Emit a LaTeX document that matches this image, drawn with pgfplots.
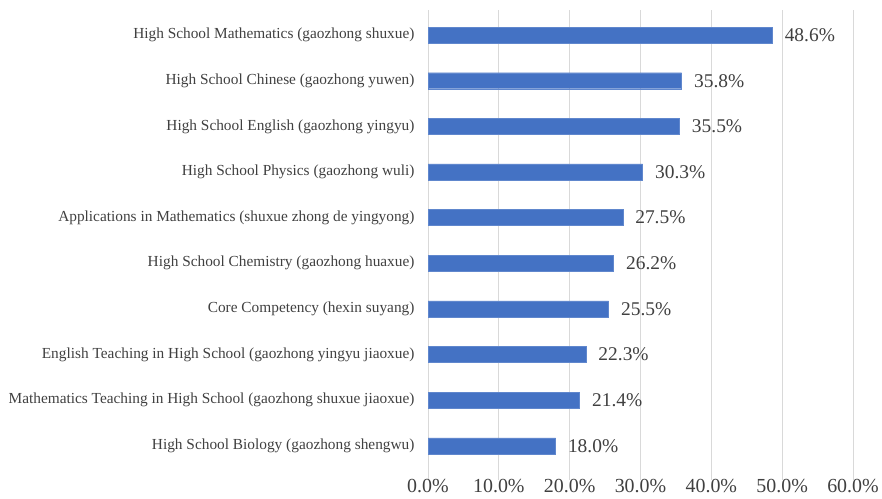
\documentclass[border=0pt]{standalone}
\usepackage{pgfplots}
\pgfplotsset{compat=1.18}
\usepackage{fontspec}
\setmainfont{Liberation Serif}
\definecolor{barblue}{HTML}{4472C4}
\definecolor{txt}{HTML}{404040}
\definecolor{gridc}{HTML}{D9D9D9}
\begin{document}
\begin{tikzpicture}
\begin{axis}[
  at={(428bp,19bp)}, anchor=south west,
  width=425bp, height=470bp, scale only axis,
  xbar, bar width=16bp,
  xmin=0, xmax=60, ymin=-0.75, ymax=9.55,
  xtick={0,10,20,30,40,50,60},
  xticklabels={0.0\%,10.0\%,20.0\%,30.0\%,40.0\%,50.0\%,60.0\%},
  xticklabel style={font=\fontsize{20}{20}\selectfont, text=txt, yshift=4bp},
  ytick={0,...,9},
  yticklabels={
    High School Biology (gaozhong shengwu),
    Mathematics Teaching in High School (gaozhong shuxue jiaoxue),
    English Teaching in High School (gaozhong yingyu jiaoxue),
    Core Competency (hexin suyang),
    High School Chemistry (gaozhong huaxue),
    Applications in Mathematics (shuxue zhong de yingyong),
    High School Physics (gaozhong wuli),
    High School English (gaozhong yingyu),
    High School Chinese (gaozhong yuwen),
    High School Mathematics (gaozhong shuxue)},
  yticklabel style={font=\fontsize{15.4}{15.4}\selectfont, text=txt, xshift=-10bp},
  major tick length=0pt,
  xmajorgrids, ymajorgrids=false, grid style={draw=gridc, line width=1bp},
  axis line style={draw=none},
  axis x line*=bottom, axis y line*=left,
  point meta=explicit symbolic,
  nodes near coords,
  nodes near coords style={font=\fontsize{19.5}{19.5}\selectfont, text=txt, anchor=west, xshift=9bp},
  clip=false,
]
\addplot[fill=barblue, draw=barblue!85!white] coordinates {
  (18.0,0) [18.0\%]
  (21.4,1) [21.4\%]
  (22.3,2) [22.3\%]
  (25.5,3) [25.5\%]
  (26.2,4) [26.2\%]
  (27.5,5) [27.5\%]
  (30.3,6) [30.3\%]
  (35.5,7) [35.5\%]
  (35.8,8) [35.8\%]
  (48.6,9) [48.6\%]
};
\end{axis}
\pgfresetboundingbox
\path (0,0) rectangle (882bp,499bp);
\end{tikzpicture}
\end{document}
